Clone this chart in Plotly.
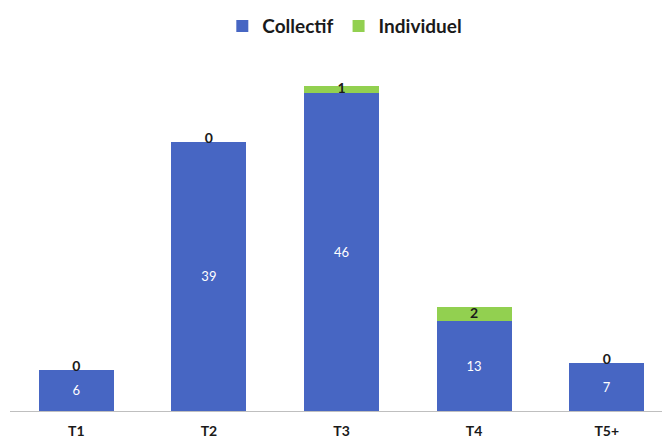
import plotly.graph_objects as go

categories = ["T1", "T2", "T3", "T4", "T5+"]
collectif = [6, 39, 46, 13, 7]
individuel = [0, 0, 1, 2, 0]

blue = "#4766c3"
green = "#92d050"
font_family = "Lato, 'Open Sans', sans-serif"

fig = go.Figure()
fig.add_trace(go.Bar(
    x=categories, y=collectif, name="<b>Collectif</b>",
    marker=dict(color=blue, line=dict(width=0)),
    text=[str(v) for v in collectif], textposition="inside",
    insidetextanchor="middle",
    textfont=dict(color="white", size=13, family=font_family),
))
fig.add_trace(go.Bar(
    x=categories, y=individuel, name="<b>Individuel</b>",
    marker=dict(color=green, line=dict(width=0)),
    textposition="none",
))
fig.add_trace(go.Scatter(
    x=categories, y=[c + i / 2 + (0.25 if i == 0 else 0) for c, i in zip(collectif, individuel)],
    mode="text", text=["<b>%d</b>" % v for v in individuel],
    textposition="middle center",
    textfont=dict(color="#1a1a1a", size=14, family=font_family),
    showlegend=False, hoverinfo="skip",
))

fig.update_layout(
    width=670, height=443,
    barmode="stack", bargap=0.435,
    margin=dict(l=2, r=5, t=52, b=40),
    paper_bgcolor="white", plot_bgcolor="white",
    font=dict(family=font_family, color="#1a1a1a"),
    legend=dict(orientation="h", x=0.505, xanchor="center", y=0.959, yanchor="middle",
                yref="container", font=dict(size=19, color="#1a1a1a"),
                itemwidth=30, traceorder="normal"),
    showlegend=True,
)
fig.update_xaxes(showline=True, linecolor="#bfbfbf", linewidth=1,
                 tickfont=dict(size=14, color="#1a1a1a"),
                 tickvals=categories, ticktext=["<b>%s</b>" % c for c in categories],
                 ticks="outside", ticklen=7, tickcolor="rgba(0,0,0,0)",
                 showgrid=False, automargin=False)
fig.update_yaxes(range=[0, 50.8], visible=False, showgrid=False)

fig.write_html("out.html")
